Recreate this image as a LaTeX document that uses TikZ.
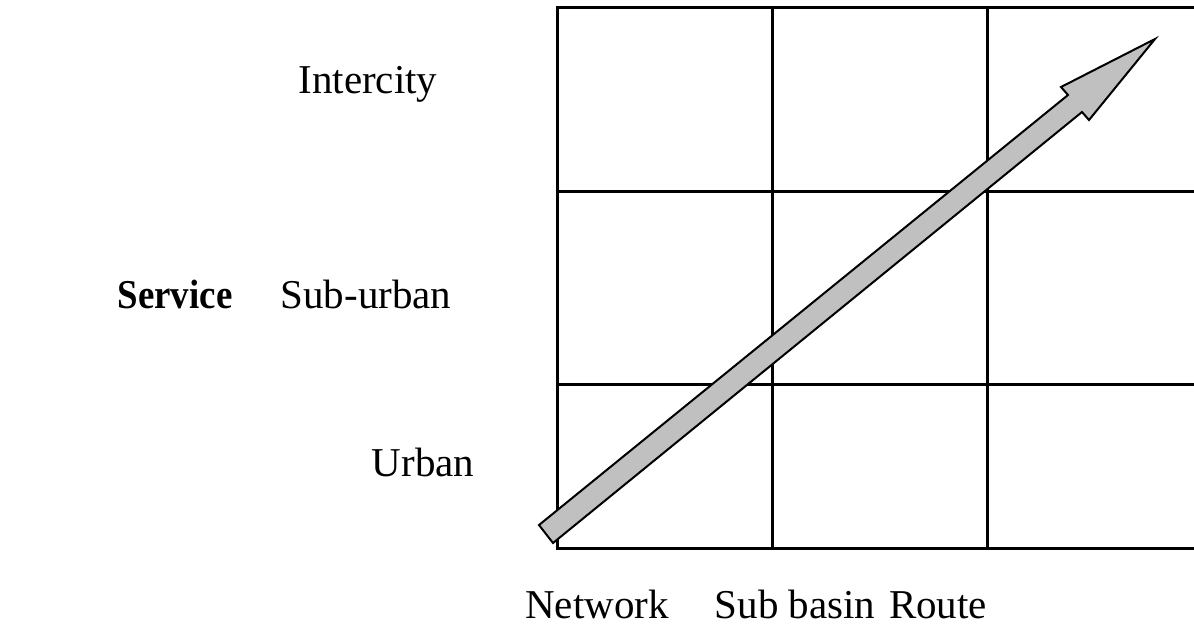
\documentclass[tikz,border=0pt]{standalone}
\usepackage{fontspec}
\setmainfont{Liberation Serif}
\definecolor{arrowgray}{RGB}{192,192,192}
\newcommand{\narrowtxt}[1]{\scalebox{0.9}[1]{#1}}
\begin{document}
\begin{tikzpicture}[x=1pt,y=-1pt,
  gridline/.style={line width=3pt,line cap=rect},
  lbl/.style={font=\fontsize{41}{44}\selectfont,anchor=base,inner sep=0pt},
  bigarrow/.style={draw=black,line width=2pt,fill=arrowgray,line join=miter}]
\useasboundingbox (0,0) rectangle (1194,627);
% grid
\draw[gridline] (557,7) -- (1196,7);
\draw[gridline] (557,191) -- (1196,191);
\draw[gridline] (557,384) -- (1196,384);
\draw[gridline] (557,548) -- (1196,548);
\draw[gridline] (557,7) -- (557,548);
\draw[gridline] (772,7) -- (772,548);
\draw[gridline] (987,7) -- (987,548);
% arrow
\coordinate (tA) at (539,525);
\coordinate (tB) at (553,543);
\coordinate (n1) at (1068,95);
\coordinate (b1) at (1061,87);
\coordinate (tip) at (1155,39);
\coordinate (b2) at (1089,120);
\coordinate (n2) at (1082,112);
\draw[bigarrow] (tA) -- (n1) -- (b1) -- (tip) -- (b2) -- (n2) -- (tB) -- cycle;
% labels
\node[lbl] (inter) at (368,93) {Intercity};
\node[lbl] (sub) at (366,308) {Sub-urban};
\node[lbl,font=\fontsize{41}{44}\selectfont\bfseries] (serv) at (175,308) {\narrowtxt{Service}};
\node[lbl] (urb) at (423,476) {Urban};
\node[lbl] (net) at (597,618) {Network};
\node[lbl] (sbas) at (795,618) {Sub basin};
\node[lbl] (rte) at (938,618) {Route};
\end{tikzpicture}
\end{document}
